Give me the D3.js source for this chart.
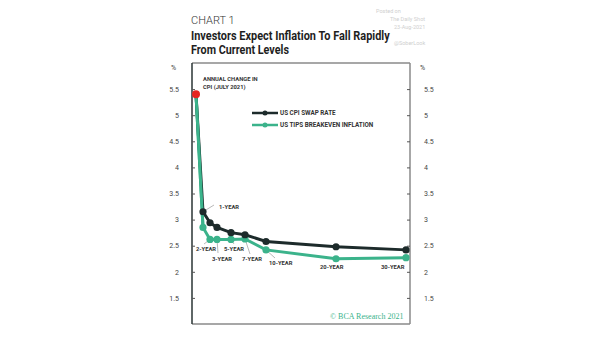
<!DOCTYPE html>
<html><head><meta charset="utf-8">
<script src="https://cdn.jsdelivr.net/npm/d3@7"></script>
<style>body{margin:0;background:#fff}svg{display:block}</style>
</head><body><svg id="c" width="605" height="341"></svg>
<script>
const years = [0, 1, 2, 3, 5, 7, 10, 20, 30];
const cpiSwap = [5.4, 3.15, 2.94, 2.85, 2.75, 2.71, 2.58, 2.48, 2.42];
const tipsBreakeven = [5.4, 2.85, 2.62, 2.62, 2.62, 2.63, 2.42, 2.25, 2.27];
const currentCPI = 5.4;
const yTicks = [1.5, 2, 2.5, 3, 3.5, 4, 4.5, 5, 5.5];
const yearLabels = ["1-YEAR","2-YEAR","3-YEAR","5-YEAR","7-YEAR","10-YEAR","20-YEAR","30-YEAR"];

const svg = d3.select("#c");
const x = d3.scaleLinear().domain([0, 30]).range([196, 406]);
const y = d3.scaleLinear().domain([1, 6]).range([324, 63]);
const L = 192, R = 410, T = 63, B = 324;
const dark = "#1d2b2b", green = "#3bb38b";

// titles
svg.append("text").attr("x",191).attr("y",24).text("CHART 1")
  .attr("font-family","Roboto, sans-serif").attr("font-size",11).attr("font-weight",300).attr("fill","#333");
function condensed(t, yy, w){
  const el = svg.append("text").attr("x",0).attr("y",0).text(t)
    .attr("font-family","Roboto, sans-serif").attr("font-size",12.8).attr("font-weight",700).attr("fill","#1e1e1e");
  const len = el.node().getComputedTextLength();
  el.attr("transform",`translate(191,${yy}) scale(${w/len},1)`);
}
condensed("Investors Expect Inflation To Fall Rapidly", 39.5, 199);
condensed("From Current Levels", 54, 98);

// watermark
const wm = ["Posted on","The Daily Shot","23-Aug-2021","@SoberLook"];
const wmx = [376, 390, 394, 394];
const wmy = [13, 21, 29, 45];
wm.forEach((t,i)=>svg.append("text").attr("x",wmx[i]).attr("y",wmy[i]).text(t)
  .attr("font-family","Roboto, sans-serif").attr("font-size",5.5).attr("fill","#cfcfcf"));

// frame
svg.append("line").attr("x1",L).attr("x2",R).attr("y1",T).attr("y2",T).attr("stroke","#8a8a8a").attr("stroke-width",1.3);
svg.append("line").attr("x1",L).attr("x2",R).attr("y1",B).attr("y2",B).attr("stroke","#8a8a8a").attr("stroke-width",1.3);
svg.append("line").attr("x1",R).attr("x2",R).attr("y1",T).attr("y2",B).attr("stroke","#8a8a8a").attr("stroke-width",1.5);
svg.append("line").attr("x1",L).attr("x2",L).attr("y1",T).attr("y2",B).attr("stroke","#2a3535").attr("stroke-width",1.5);

// axes
const fmt = d => String(d);
const axL = d3.axisLeft(y).tickValues(yTicks).tickSize(-3).tickPadding(13).tickFormat(fmt);
const gL = svg.append("g").attr("transform",`translate(${L},0)`).call(axL);
const axR = d3.axisRight(y).tickValues(yTicks).tickSize(-3).tickPadding(14).tickFormat(fmt);
const gR = svg.append("g").attr("transform",`translate(${R},0)`).call(axR);
[gL,gR].forEach(g=>{
  g.select(".domain").remove();
  g.selectAll(".tick line").attr("stroke","#555");
  g.selectAll(".tick text").attr("font-family","Roboto, sans-serif").attr("font-size",7).style("fill","#444");
});
svg.append("text").attr("x",171).attr("y",70).text("%").attr("font-family","Roboto, sans-serif").attr("font-size",7).attr("fill","#444");
svg.append("text").attr("x",420).attr("y",70).text("%").attr("font-family","Roboto, sans-serif").attr("font-size",7).attr("fill","#444");

// leader lines
const leaders = [
  [1, 3.15, 214, 205],
  [2, 2.62, 204, 244],
  [3, 2.62, 218, 253],
  [5, 2.62, 234, 244],
  [7, 2.63, 250, 254],
  [10, 2.42, 275, 258]
];
leaders.forEach(([yr,v,lx,ly])=>svg.append("line").attr("x1",x(yr)).attr("y1",y(v)).attr("x2",lx).attr("y2",ly)
  .attr("stroke","#999").attr("stroke-width",0.7));

// lines
const line = d3.line().x((d,i)=>x(years[i])).y(d=>y(d));
svg.append("path").datum(tipsBreakeven).attr("d",line).attr("fill","none").attr("stroke",green).attr("stroke-width",3);
svg.append("path").datum(cpiSwap).attr("d",line).attr("fill","none").attr("stroke",dark).attr("stroke-width",3);
svg.append("path").datum(tipsBreakeven.slice(0,2)).attr("d",line).attr("fill","none").attr("stroke",green).attr("stroke-width",3);
svg.selectAll(".pg").data(tipsBreakeven.slice(1)).join("circle").attr("cx",(d,i)=>x(years[i+1])).attr("cy",d=>y(d)).attr("r",3.6).attr("fill",green);
svg.selectAll(".pd").data(cpiSwap.slice(1)).join("circle").attr("cx",(d,i)=>x(years[i+1])).attr("cy",d=>y(d)).attr("r",3.6).attr("fill",dark);
svg.append("circle").attr("cx",x(0)).attr("cy",y(currentCPI)).attr("r",4).attr("fill","#e5261f");

// annotations
const af = (t,xx,yy)=>svg.append("text").attr("x",xx).attr("y",yy).text(t)
  .attr("font-family","Roboto, sans-serif").attr("font-size",5.8).attr("font-weight",700).attr("fill","#333");
af("ANNUAL CHANGE IN",203,81);
af("CPI (JULY 2021)",203,89);
const lblPos = [[219,209],[196,251],[212,261],[224,251],[242,261],[269,265],[320,269],[381,269]];
yearLabels.forEach((t,i)=>af(t,lblPos[i][0],lblPos[i][1]));

// legend
const lg = [[dark,"US CPI SWAP RATE",113],[green,"US TIPS BREAKEVEN INFLATION",125]];
lg.forEach(([c,t,yy])=>{
  svg.append("line").attr("x1",252).attr("x2",278).attr("y1",yy).attr("y2",yy).attr("stroke",c).attr("stroke-width",2.5);
  svg.append("circle").attr("cx",265).attr("cy",yy).attr("r",2.5).attr("fill",c);
  svg.append("text").attr("x",280).attr("y",yy+2.2).text(t).attr("font-family","Roboto, sans-serif")
    .attr("font-size",6.3).attr("font-weight",700).attr("fill","#333");
});

// credit
svg.append("text").attr("x",330).attr("y",319).text("© BCA Research 2021")
  .attr("font-family","'Liberation Serif', serif").attr("font-size",8).attr("fill","#3bb38b");
</script></body></html>
